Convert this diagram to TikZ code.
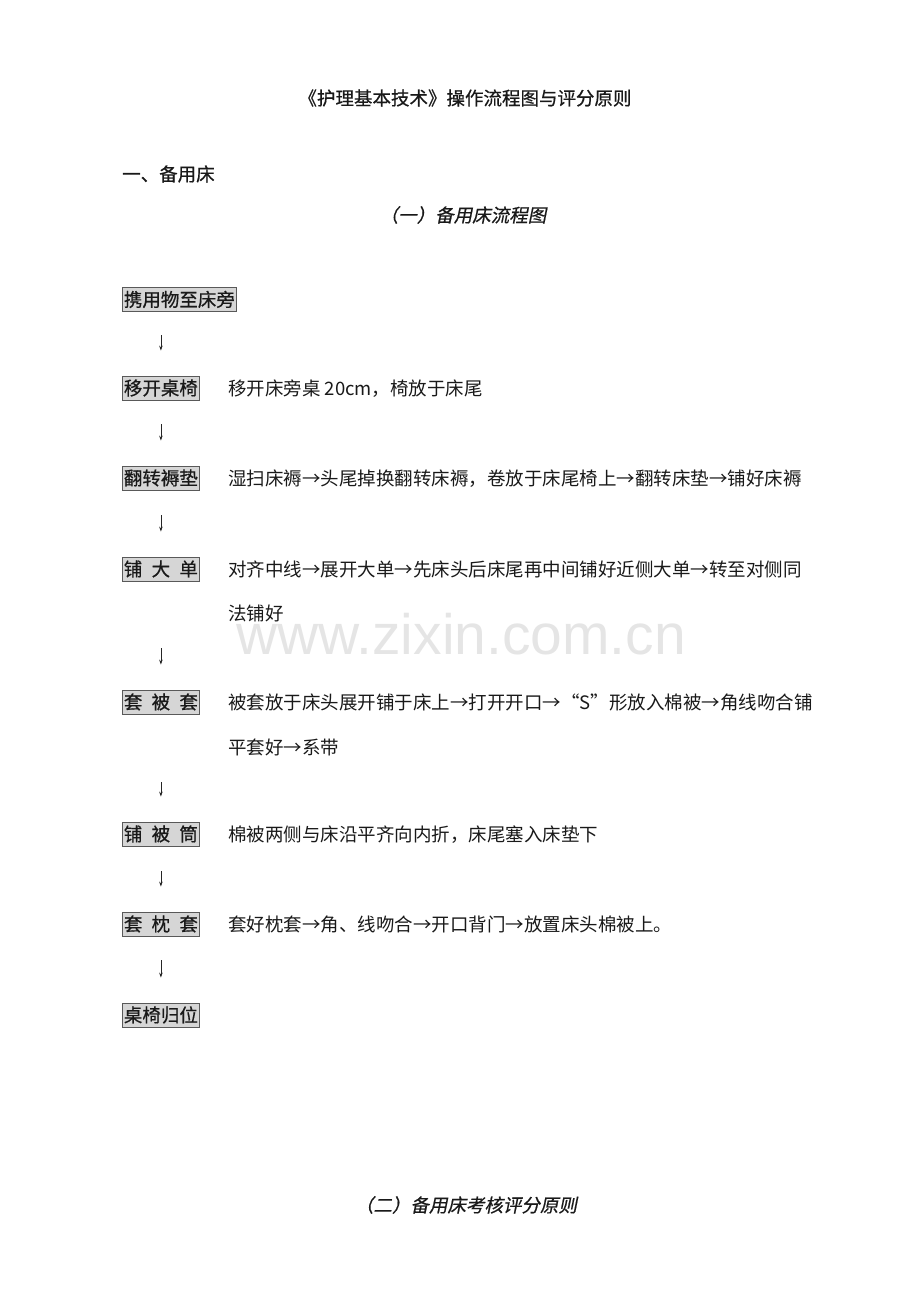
\documentclass[tikz,border=0pt]{standalone}
\usepackage{fontspec}
\usetikzlibrary{arrows.meta}
\setmainfont{Noto Sans CJK SC}
\newfontfamily\wmfont{Liberation Sans}
\newfontfamily\itfont[FakeSlant=0.2,FakeBold=0.6]{Noto Sans CJK SC}
\newfontfamily\hdfont[FakeBold=0.6]{Noto Sans CJK SC}
\begin{document}
\begin{tikzpicture}[x=1pt,y=-1pt,
  every node/.style={inner sep=0pt, font=\fontsize{18.5}{22}\selectfont, text=black!90},
  stepbox/.style={draw=black!65, fill=black!16, line width=0.8pt, anchor=west,
     inner xsep=1.5pt, inner ysep=3pt, text height=16pt, text depth=2pt,
     font=\hdfont\fontsize{18.5}{22}\selectfont},
  desc/.style={anchor=base west},
  flowarrow/.style={-{Stealth[length=5pt,width=3.5pt]}, line width=0.7pt, black!85, shorten >=25pt},
]
\useasboundingbox (0,0) rectangle (920,1302);
% watermark
\node[anchor=base west, font=\wmfont\fontsize{57}{60}\selectfont, text=black!10] (wm) at (236,654) {www.zixin.com.cn};
% titles
\node[font=\hdfont\fontsize{18.5}{22}\selectfont] (title) at (465,98) {《护理基本技术》操作流程图与评分原则};
\node[anchor=west, font=\hdfont\fontsize{18.5}{22}\selectfont] (sec) at (122,174) {一、备用床};
\node[font=\itfont\fontsize{18.5}{22}\selectfont] (sub1) at (463,215) {（一）备用床流程图};
\node[font=\itfont\fontsize{18.5}{22}\selectfont] (sub2) at (466,1205) {（二）备用床考核评分原则};
% boxes
\node[stepbox] (a1) at (122,299.5) {携用物至床旁};
\node[stepbox] (a2) at (122,388) {移开桌椅};
\node[stepbox] (a3) at (122,478) {翻转褥垫};
\node[stepbox] (a4) at (122,569) {\makebox[74pt][s]{铺\hfill 大\hfill 单}};
\node[stepbox] (a5) at (122,702) {\makebox[74pt][s]{套\hfill 被\hfill 套}};
\node[stepbox] (a6) at (122,834) {\makebox[74pt][s]{铺\hfill 被\hfill 筒}};
\node[stepbox] (a7) at (122,924) {\makebox[74pt][s]{套\hfill 枕\hfill 套}};
\node[stepbox] (a8) at (122,1015) {桌椅归位};
% descriptions
\node[desc] (d2) at (228,395) {移开床旁桌 20cm，椅放于床尾};
\node[desc] (d3) at (228,485) {湿扫床褥→头尾掉换翻转床褥，卷放于床尾椅上→翻转床垫→铺好床褥};
\node[desc] (d4) at (228,576) {\makebox[577pt][s]{对齐中线→展开大单→先床头后床尾再中间铺好近侧大单→转至对侧同}};
\node[desc] (d4b) at (228,620) {法铺好};
\node[desc] (d5) at (228,709) {被套放于床头展开铺于床上→打开开口→“S”形放入棉被→角线吻合铺};
\node[desc] (d5b) at (228,754) {平套好→系带};
\node[desc] (d6) at (228,841) {棉被两侧与床沿平齐向内折，床尾塞入床垫下};
\node[desc] (d7) at (228,931) {套好枕套→角、线吻合→开口背门→放置床头棉被上。};
% arrows
\draw[flowarrow, shorten <=23.5pt] (a1.south -| a2.north) -- (a2.north);
\draw[flowarrow, shorten <=24pt] (a2.south) -- (a3.north);
\draw[flowarrow, shorten <=25pt] (a3.south) -- (a4.north -| a3.south);
\draw[flowarrow, shorten <=67pt] (a4.south -| a3.south) -- (a5.north -| a3.south);
\draw[flowarrow, shorten <=68pt] (a5.south -| a3.south) -- (a6.north -| a3.south);
\draw[flowarrow, shorten <=25pt] (a6.south -| a3.south) -- (a7.north -| a3.south);
\draw[flowarrow, shorten <=24pt] (a7.south -| a3.south) -- (a8.north);
\end{tikzpicture}
\end{document}
